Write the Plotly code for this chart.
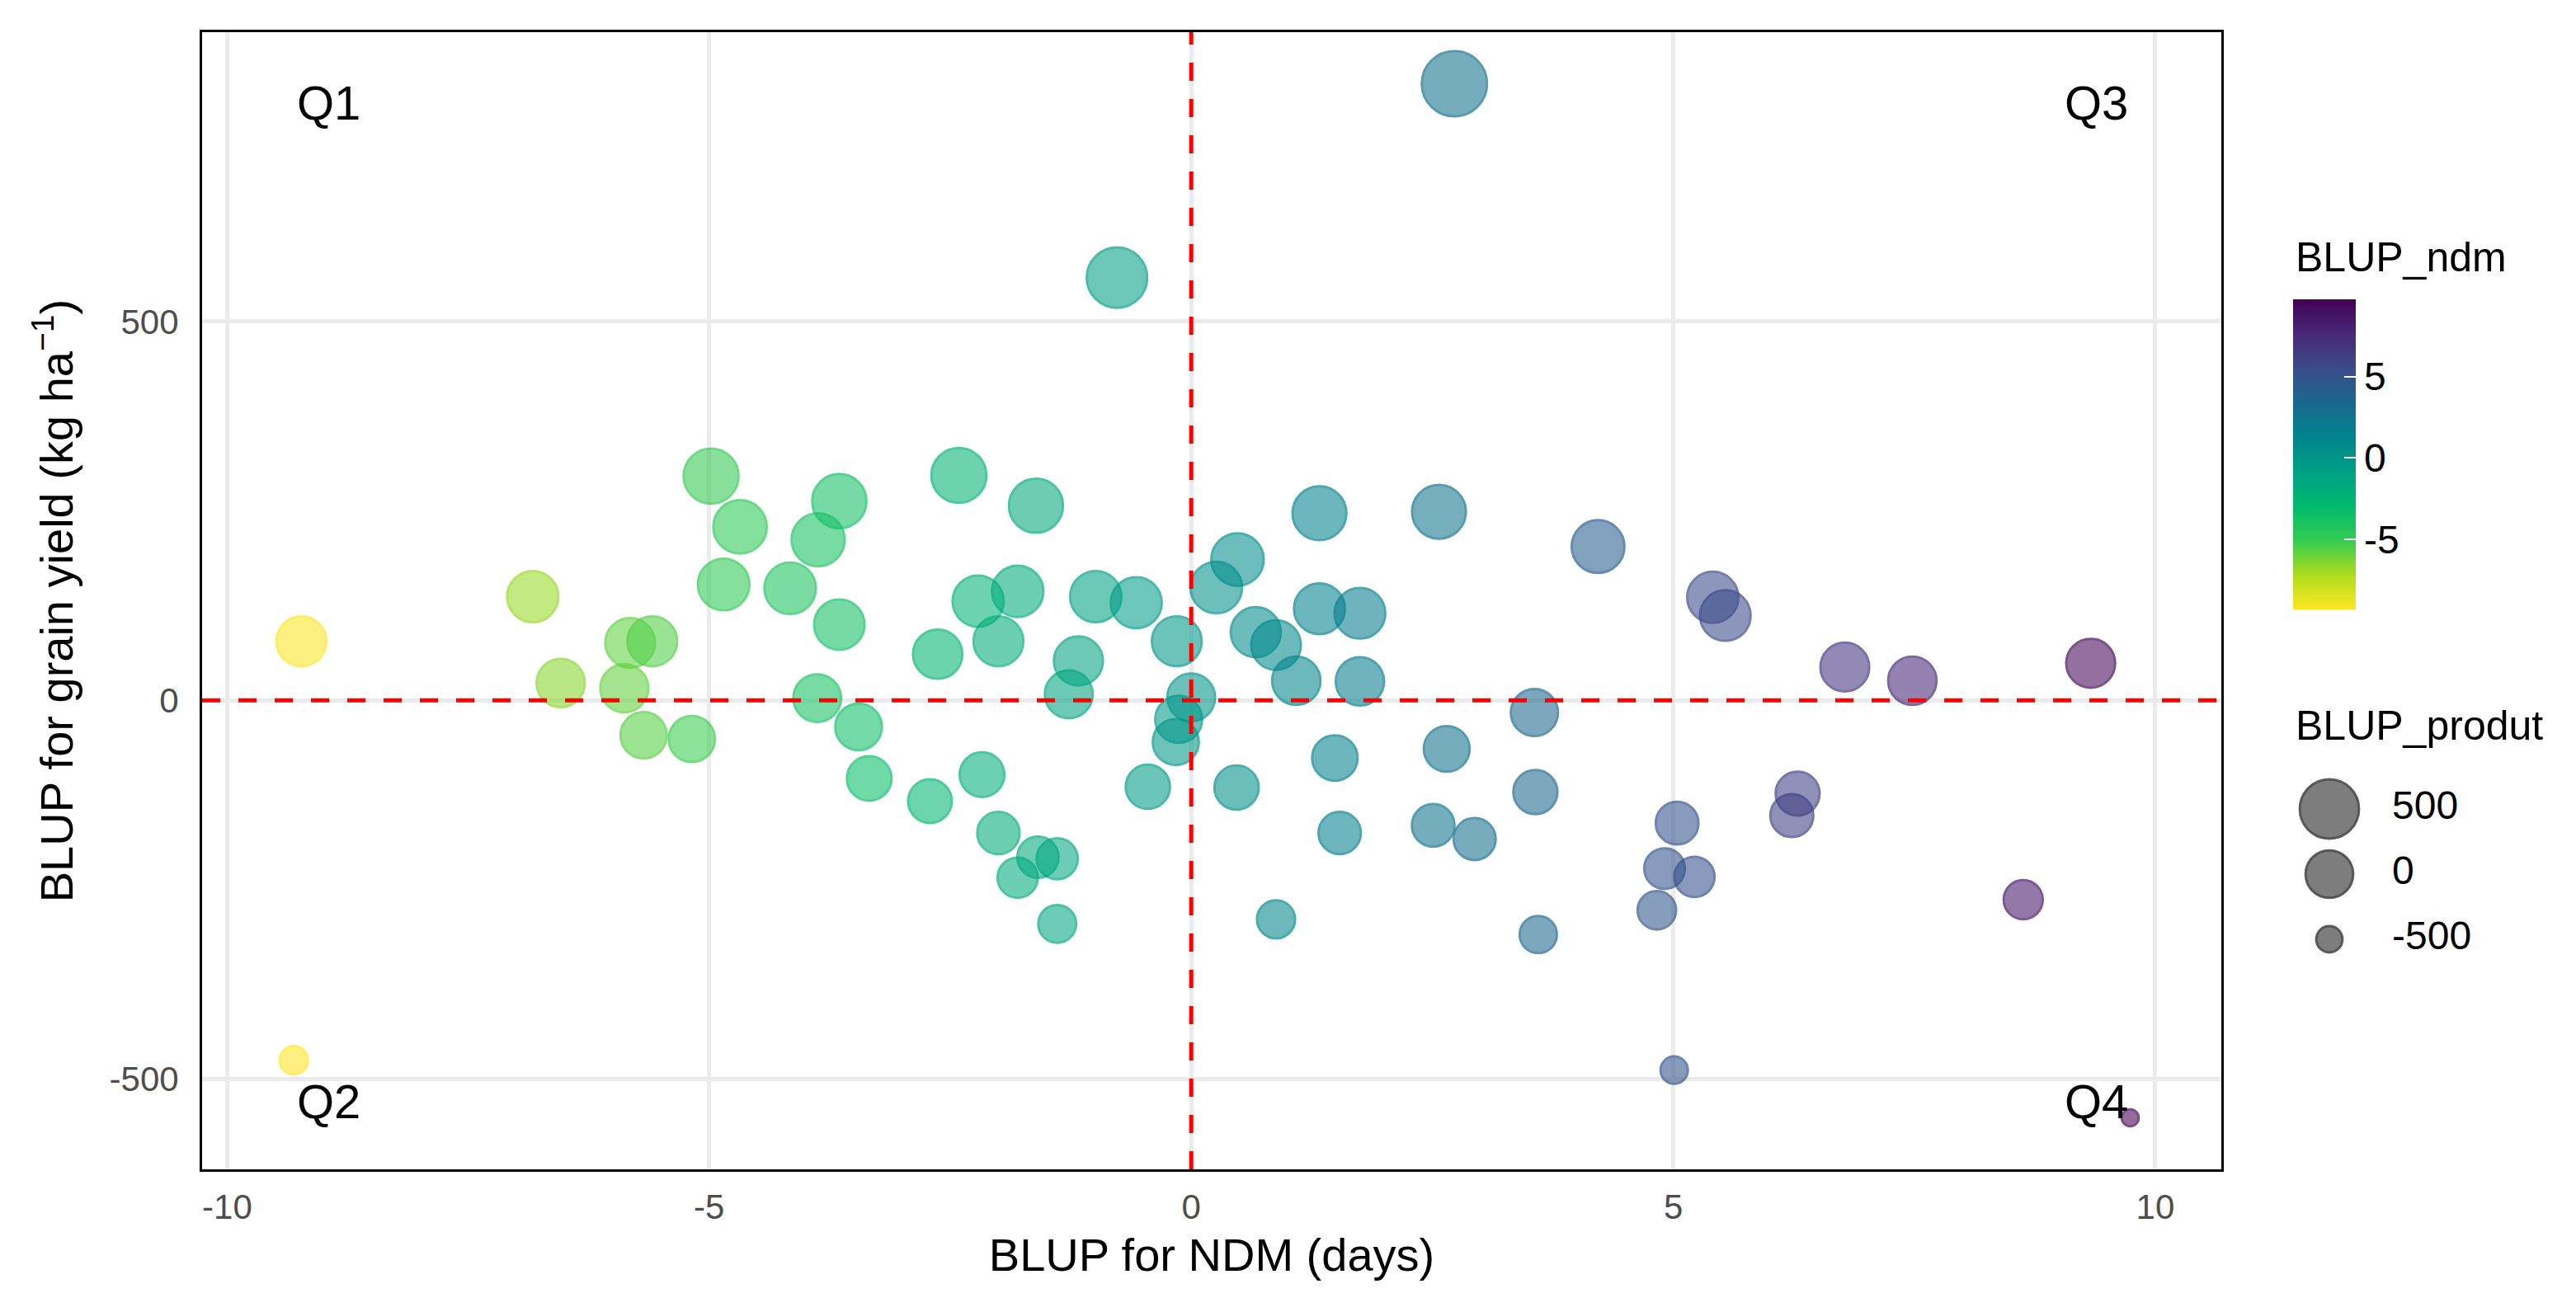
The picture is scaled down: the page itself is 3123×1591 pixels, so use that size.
import numpy as np
import plotly.graph_objects as go
from plotly.colors import hex_to_rgb

# ---------------- data ----------------
blup_ndm = [-9.23, -9.31, -6.83, -6.54, -5.88, -5.82, -5.59, -5.68, -5.18, -4.98,
            -4.68, -4.85, -4.16, -3.87, -3.65, -3.65, -3.88, -3.45, -3.34, -2.71,
            -2.63, -2.41, -2.21, -2.17, -2.00, -2.00, -1.80, -1.80, -1.61, -1.59,
            -1.39, -1.39, -1.17, -1.27, -0.99, -0.77, -0.57, -0.45, -0.15, -0.13,
            -0.16, 0.00, 0.26, 0.48, 0.47, 0.67, 0.88, 0.88, 1.33, 1.33,
            1.75, 1.75, 1.49, 1.54, 2.73, 2.57, 2.65, 2.51, 2.94, 3.56,
            3.57, 3.60, 4.22, 4.83, 4.91, 5.01, 5.04, 5.22, 5.41, 5.54,
            6.23, 6.29, 6.78, 7.48, 8.63, 9.33, 9.74, 1.09]
blup_yield = [78, -475, 137, 23, 16, 76, 78, -46, -51, 296,
              229, 153, 148, 212, 263, 100, 3, -35, -103, -133,
              61, 297, 131, -98, 78, -175, 144, -234, 257, -207,
              -209, -295, 52, 8, 137, 558, 129, -114, 78, -25,
              -55, 4, 149, 186, -115, 90, 73, -289, 247, 121,
              115, 25, -76, -175, 814, 249, -64, -165, -183, -16,
              -121, -309, 203, -277, -222, -488, -162, -233, 136, 112,
              -152, -123, 44, 26, -263, 49, -551, 26]

x_ticks = [-10, -5, 0, 5, 10]
y_ticks = [-500, 0, 500]
colorbar_ticks = [-5, 0, 5]
size_legend_values = [500, 0, -500]

quadrant_labels = ["Q1", "Q2", "Q3", "Q4"]
quadrant_x = [-8.95, -8.95, 9.39, 9.39]
quadrant_y = [789, -529, 789, -529]

ref_x = 0   # vertical reference line
ref_y = 0   # horizontal reference line

x_title = "BLUP for NDM (days)"
y_title = "BLUP for grain yield (kg ha<sup>\u22121</sup>)"
color_title = "BLUP_ndm"
size_title = "BLUP_produt"

# ---------------- styling ----------------
W, H = 3123, 1591
FONT = "Liberation Sans, Arial, Helvetica, sans-serif"
LW = 3
FILL_ALPHA = 0.82

# viridis (reversed: low = yellow), as rendered in the reference (vivid)
palette = ["#FDE725", "#ADDC1C", "#34CC52", "#00BA6E", "#00A085",
           "#00848D", "#1A698E", "#3A4B8A", "#482878", "#440154"]
n = len(palette)
solid_scale = [[i / (n - 1), c] for i, c in enumerate(palette)]
fill_scale = [[i / (n - 1), "rgba(%d,%d,%d,%.2f)" % (*hex_to_rgb(c), FILL_ALPHA)]
              for i, c in enumerate(palette)]

ymin, ymax = min(blup_yield), max(blup_yield)


def diam(v):
    v = np.asarray(v, dtype=float)
    return 11.7 * (1 + 5 * np.sqrt((v - ymin) / (ymax - ymin))) + 11.8 - LW


# plot-area pixel geometry
PL, PR, PT, PB = 245, 2693, 39, 1418

fig = go.Figure()

fig.add_trace(go.Scatter(
    x=blup_ndm, y=blup_yield, mode="markers",
    marker=dict(size=diam(blup_yield), sizemode="diameter",
                color=blup_ndm, colorscale=fill_scale, showscale=False,
                line=dict(width=LW, color=blup_ndm, coloraxis="coloraxis")),
    showlegend=False, xaxis="x", yaxis="y",
))

# size legend (drawn with the same size mapping)
size_labels = [str(v) for v in size_legend_values]
fig.add_trace(go.Scatter(
    x=[0] * len(size_legend_values), y=size_labels, mode="markers",
    marker=dict(size=diam(size_legend_values), color="rgba(0,0,0,0.72)",
                line=dict(width=LW, color="rgba(0,0,0,0.88)")),
    showlegend=False, xaxis="x2", yaxis="y2", cliponaxis=False, hoverinfo="skip",
))
fig.add_trace(go.Scatter(
    x=[1.9] * len(size_legend_values), y=size_labels, mode="text",
    text=size_labels, textposition="middle right",
    textfont=dict(family=FONT, size=48, color="black"),
    showlegend=False, xaxis="x2", yaxis="y2", cliponaxis=False, hoverinfo="skip",
))

axis_common = dict(showgrid=True, gridcolor="#EBEBEB", gridwidth=5, zeroline=False,
                   showline=True, linecolor="black", linewidth=3, mirror=True,
                   ticks="", tickfont=dict(family=FONT, size=42, color="#4D4D4D"))

fig.update_layout(
    width=W, height=H,
    margin=dict(l=0, r=0, t=0, b=0),
    paper_bgcolor="white", plot_bgcolor="white",
    font=dict(family=FONT, color="black"),
    xaxis=dict(domain=[PL / W, PR / W], range=[-10.26, 10.685],
               tickvals=x_ticks, ticktext=[str(v) for v in x_ticks],
               title=dict(text=x_title, font=dict(family=FONT, size=56, color="black"), standoff=16),
               ticklabelstandoff=7,
               **axis_common),
    yaxis=dict(domain=[1 - PB / H, 1 - PT / H], range=[-619, 882],
               tickvals=y_ticks, ticktext=[str(v) for v in y_ticks],
               title=dict(text=y_title, font=dict(family=FONT, size=56, color="black"), standoff=26),
               ticklabelstandoff=17,
               **axis_common),
    xaxis2=dict(domain=[2764 / W, 3104 / W], range=[-1.5, 7], visible=False, anchor="y2",
                fixedrange=True),
    yaxis2=dict(domain=[1 - 1178.5 / H, 1 - 941.5 / H], type="category",
                categoryorder="array", categoryarray=size_labels,
                range=[len(size_labels) - 0.5, -0.5], visible=False, anchor="x2",
                fixedrange=True),
    coloraxis=dict(
        colorscale=solid_scale,
        colorbar=dict(
            thickness=76, thicknessmode="pixels", len=376, lenmode="pixels",
            x=2780 / W, xanchor="left", xref="paper", xpad=0, ypad=0,
            y=1 - 551 / H, yanchor="middle", yref="paper",
            outlinewidth=0, tickvals=colorbar_ticks,
            ticktext=[str(v) for v in colorbar_ticks],
            ticks="inside", ticklen=14, tickwidth=2, tickcolor="white",
            tickfont=dict(family=FONT, size=48, color="black"),
            tickprefix="\u00a0",
        ),
    ),
)

# quadrant reference lines (drawn over points)
fig.add_shape(type="line", xref="x domain", x0=0, x1=1, yref="y", y0=ref_y, y1=ref_y,
              line=dict(color="#FF0000", width=5, dash="22px,22px"), layer="above")
fig.add_shape(type="line", xref="x", x0=ref_x, x1=ref_x, yref="y domain", y0=0, y1=1,
              line=dict(color="#FF0000", width=5, dash="22px,22px"), layer="above")

for lab, qx, qy in zip(quadrant_labels, quadrant_x, quadrant_y):
    fig.add_annotation(x=qx, y=qy, xref="x", yref="y", text=lab, showarrow=False,
                       font=dict(family=FONT, size=58, color="black"),
                       xanchor="center", yanchor="middle")

fig.add_annotation(x=2781 / W, y=1 - 312 / H, xref="paper", yref="paper", text=color_title,
                   showarrow=False, xanchor="left", yanchor="middle",
                   font=dict(family=FONT, size=50, color="black"))
fig.add_annotation(x=2781 / W, y=1 - 880 / H, xref="paper", yref="paper", text=size_title,
                   showarrow=False, xanchor="left", yanchor="middle",
                   font=dict(family=FONT, size=50, color="black"))

fig.write_html("out.html")
